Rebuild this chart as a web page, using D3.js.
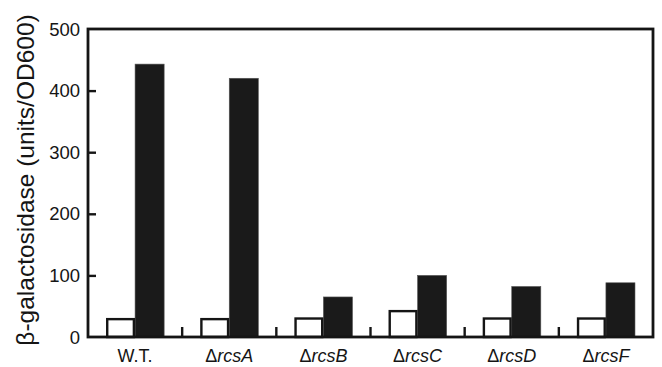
<!DOCTYPE html>
<html><head><meta charset="utf-8">
<script src="https://cdn.jsdelivr.net/npm/d3@7"></script>
<style>body{margin:0;background:#fff}svg{display:block}</style>
</head><body>
<svg id="c" width="662" height="367"></svg>
<script>
const strains = ["W.T.", "rcsA", "rcsB", "rcsC", "rcsD", "rcsF"];
const deletion = [false, true, true, true, true, true];
const uninduced = [29, 29, 30, 42, 30, 30];
const induced = [443, 420, 65, 100, 82, 88];
const yTicks = [0, 100, 200, 300, 400, 500];
const series = ["uninduced", "induced"];

const svg = d3.select("#c");
const L = 88, R = 653, T = 29, B = 337;
const font = "'Liberation Sans', Arial, Helvetica, sans-serif";
const ink = "#151515";

const x = d3.scaleBand().domain(strains).range([L, R]).paddingInner(0).paddingOuter(0);
const x1 = d3.scaleBand().domain(series).range([0, x.bandwidth()]).paddingInner(0).paddingOuter(0.62);
const y = d3.scaleLinear().domain([0, 500]).range([B, T]);

const rows = strains.map((s, i) => ({s, uninduced: uninduced[i], induced: induced[i]}));

const g = svg.append("g");
const sw = 2.4;
g.selectAll("rect.ind").data(rows).join("rect").attr("class", "ind")
  .attr("x", d => x(d.s) + x1("induced"))
  .attr("width", x1.bandwidth())
  .attr("y", d => y(d.induced))
  .attr("height", d => B - y(d.induced))
  .attr("fill", "#1a1a1a").attr("stroke", "#555").attr("stroke-width", 0.6);
g.selectAll("rect.un").data(rows).join("rect").attr("class", "un")
  .attr("x", d => x(d.s) + x1("uninduced") + sw / 2)
  .attr("width", x1.bandwidth() - sw)
  .attr("y", d => y(d.uninduced))
  .attr("height", d => B - y(d.uninduced))
  .attr("fill", "#fff").attr("stroke", ink).attr("stroke-width", sw);

const yAxis = d3.axisRight(y).tickValues(yTicks.slice(1, -1)).tickSize(8).tickFormat("");
const ya = svg.append("g").attr("transform", `translate(${L},0)`).call(yAxis);
ya.select(".domain").remove();
ya.selectAll("line").attr("stroke", ink).attr("stroke-width", 2.4);

svg.append("g").selectAll("text").data(yTicks).join("text")
  .attr("x", L - 8).attr("y", d => y(d)).attr("dy", "0.36em")
  .attr("text-anchor", "end").attr("font-family", font).attr("font-size", 18.5)
  .attr("fill", ink).text(d => d);

svg.append("g").selectAll("line").data(strains.slice(1)).join("line")
  .attr("x1", d => x(d)).attr("x2", d => x(d))
  .attr("y1", B).attr("y2", B - 10)
  .attr("stroke", ink).attr("stroke-width", 2.4);

svg.append("rect").attr("x", L).attr("y", T).attr("width", R - L).attr("height", B - T)
  .attr("fill", "none").attr("stroke", ink).attr("stroke-width", 2.8);

const xl = svg.append("g").selectAll("text").data(strains.map((s, i) => ({s, del: deletion[i]}))).join("text")
  .attr("x", d => x(d.s) + x.bandwidth() / 2).attr("y", 362)
  .attr("text-anchor", "middle").attr("font-family", font).attr("font-size", 18).attr("fill", ink);
xl.each(function(d) {
  const t = d3.select(this);
  if (d.del) {
    t.append("tspan").text("\u0394");
    t.append("tspan").attr("font-style", "italic").text(d.s);
  } else {
    t.text(d.s);
  }
});

svg.append("text").attr("transform", `translate(34,180) rotate(-90)`)
  .attr("text-anchor", "middle").attr("font-family", font).attr("font-size", 24.5)
  .attr("fill", ink).text("\u03b2-galactosidase (units/OD600)");
</script>
</body></html>
